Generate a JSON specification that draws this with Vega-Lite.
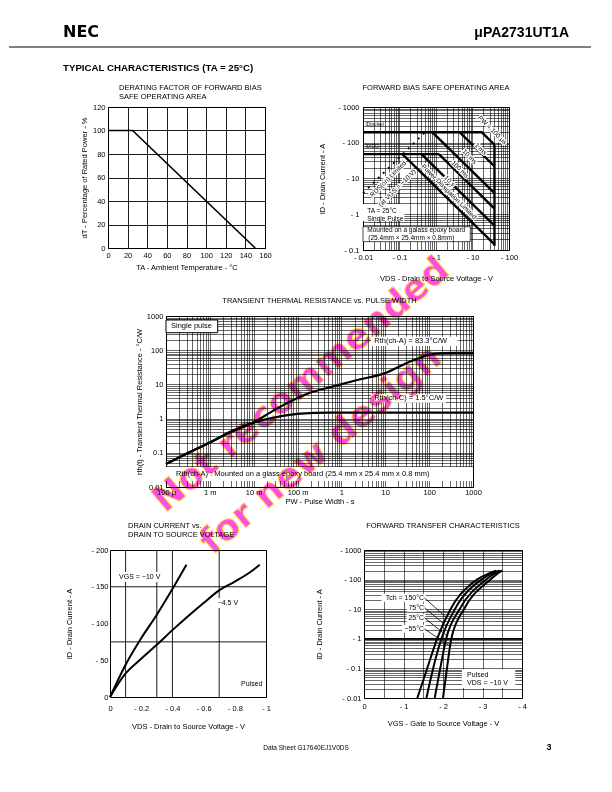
{
  "$schema": "https://vega.github.io/schema/vega-lite/v6.json",
  "background": "white",
  "padding": {"left": 8, "top": 10, "right": 0, "bottom": 0},
  "spacing": 0,
  "bounds": "flush",
  "config": {
    "font": "Liberation Sans",
    "view": {"stroke": "#000", "strokeWidth": 1},
    "axis": {"labelFont": "Liberation Sans", "titleFont": "Liberation Sans", "labelFontSize": 7.5, "titleFontSize": 7.5, "titleFontWeight": "normal", "labelColor": "#000", "titleColor": "#000", "domain": false, "ticks": false, "gridColor": "#000", "gridOpacity": 1, "gridWidth": 0.6, "labelFlush": false, "labelOverlap": false, "labelPadding": 3},
    "axisX": {"labelOverlap": false},
    "axisY": {"labelOverlap": false},
    "title": {"font": "Liberation Sans", "fontSize": 7.5, "fontWeight": "normal", "color": "#000"},
    "text": {"font": "Liberation Sans", "fontSize": 6.5, "color": "#000"}
  },
  "datasets": {
    "soa": [
      {"seg": "pulse", "v": 0.01, "i": 196}, {"seg": "pulse", "v": 18, "i": 196}, {"seg": "pulse", "v": 40, "i": 88},
      {"seg": "vlim", "v": 40, "i": 88}, {"seg": "vlim", "v": 40, "i": 0.13},
      {"seg": "ms1", "v": 4.5, "i": 196}, {"seg": "ms1", "v": 40, "i": 22},
      {"seg": "ms10", "v": 0.8, "i": 196}, {"seg": "ms10", "v": 40, "i": 3.9},
      {"seg": "dc", "v": 0.01, "i": 48}, {"seg": "dc", "v": 1.2, "i": 48},
      {"seg": "ms100", "v": 1.2, "i": 48}, {"seg": "ms100", "v": 40, "i": 1.44},
      {"seg": "s10", "v": 0.4, "i": 48}, {"seg": "s10", "v": 40, "i": 0.48},
      {"seg": "pd", "v": 0.12, "i": 48}, {"seg": "pd", "v": 40, "i": 0.144}
    ],
    "ron": [{"v": 0.01, "i": 3.9}, {"v": 0.5, "i": 196}],
    "soaDiag": [
      {"t": "PW = 100 μs", "v": 34.8, "i": 227},
      {"t": "1 ms", "v": 16.7, "i": 66.8},
      {"t": "10 ms", "v": 8.3, "i": 40.7},
      {"t": "100 ms", "v": 4.55, "i": 18.1},
      {"t": "10 s", "v": 2.36, "i": 8.5},
      {"t": "Power Dissipation Limited", "v": 2.26, "i": 4.27}
    ],
    "soaRon": [
      {"t": "RDS(on) Limited", "v": 0.049, "i": 9.7},
      {"t": "(at VGS = −10 V)", "v": 0.087, "i": 5.4}
    ],
    "soaNotes": [
      {"t": "TA = 25°C", "v": 0.0131, "i": 1.26},
      {"t": "Single Pulse", "v": 0.0131, "i": 0.736},
      {"t": "Mounted on a galass epoxy board", "v": 0.0131, "i": 0.363},
      {"t": "(25.4mm × 25.4mm × 0.8mm)", "v": 0.014, "i": 0.212}
    ],
    "soaId": [
      {"t": "ID(pulse)", "v": 0.0118, "i": 314},
      {"t": "ID(DC)", "v": 0.0118, "i": 77}
    ],
    "tth": [
      {"s": "A", "t": 0.0001, "r": 0.047}, {"s": "A", "t": 0.0003, "r": 0.095}, {"s": "A", "t": 0.001, "r": 0.2}, {"s": "A", "t": 0.003, "r": 0.4}, {"s": "A", "t": 0.006, "r": 0.58}, {"s": "A", "t": 0.01, "r": 0.78}, {"s": "A", "t": 0.03, "r": 1.8}, {"s": "A", "t": 0.1, "r": 4.0}, {"s": "A", "t": 0.2, "r": 5.8}, {"s": "A", "t": 0.63, "r": 8.6}, {"s": "A", "t": 2.3, "r": 13.5}, {"s": "A", "t": 9.5, "r": 21}, {"s": "A", "t": 32, "r": 43}, {"s": "A", "t": 94, "r": 72}, {"s": "A", "t": 200, "r": 82.5}, {"s": "A", "t": 400, "r": 83.3}, {"s": "A", "t": 1000, "r": 83.3},
      {"s": "C", "t": 0.0001, "r": 0.047}, {"s": "C", "t": 0.0003, "r": 0.095}, {"s": "C", "t": 0.001, "r": 0.2}, {"s": "C", "t": 0.003, "r": 0.42}, {"s": "C", "t": 0.006, "r": 0.62}, {"s": "C", "t": 0.01, "r": 0.76}, {"s": "C", "t": 0.02, "r": 0.97}, {"s": "C", "t": 0.05, "r": 1.22}, {"s": "C", "t": 0.1, "r": 1.38}, {"s": "C", "t": 0.25, "r": 1.48}, {"s": "C", "t": 0.5, "r": 1.5}, {"s": "C", "t": 1000, "r": 1.5}
    ],
    "tthBoxes": [
      {"t1": 0.0001, "t2": 0.00151, "r1": 764, "r2": 325, "b": "border"},
      {"t1": 4.72, "t2": 448, "r1": 248, "r2": 133, "b": "plain"},
      {"t1": 4.72, "t2": 242, "r1": 5.24, "r2": 2.92, "b": "plain"},
      {"t1": 0.0001, "t2": 1000, "r1": 0.0385, "r2": 0.015, "b": "plain"}
    ],
    "tthText": [
      {"t": 0.00013, "r": 510, "txt": "Single pulse"},
      {"t": 5.6, "r": 186, "txt": "Rth(ch-A) = 83.3°C/W"},
      {"t": 5.6, "r": 4.08, "txt": "Rth(ch-C) = 1.5°C/W"},
      {"t": 0.000169, "r": 0.0235, "txt": "Rth(ch-A) : Mounted on a glass epoxy board (25.4 mm x 25.4 mm x 0.8 mm)"}
    ],
    "idvd": [
      {"vgs": "-10", "v": 0, "i": 0}, {"vgs": "-10", "v": 0.1, "i": 44}, {"vgs": "-10", "v": 0.2, "i": 80}, {"vgs": "-10", "v": 0.3, "i": 112}, {"vgs": "-10", "v": 0.4, "i": 147}, {"vgs": "-10", "v": 0.49, "i": 180},
      {"vgs": "-4.5", "v": 0, "i": 0}, {"vgs": "-4.5", "v": 0.1, "i": 32}, {"vgs": "-4.5", "v": 0.2, "i": 52}, {"vgs": "-4.5", "v": 0.3, "i": 71}, {"vgs": "-4.5", "v": 0.4, "i": 91}, {"vgs": "-4.5", "v": 0.5, "i": 110}, {"vgs": "-4.5", "v": 0.6, "i": 128}, {"vgs": "-4.5", "v": 0.7, "i": 145}, {"vgs": "-4.5", "v": 0.8, "i": 157}, {"vgs": "-4.5", "v": 0.9, "i": 170}, {"vgs": "-4.5", "v": 0.96, "i": 180}
    ],
    "transfer": [
      {"tch": "150", "v": 1.35, "i": 0.01}, {"tch": "150", "v": 1.6, "i": 0.1}, {"tch": "150", "v": 1.85, "i": 1}, {"tch": "150", "v": 2.19, "i": 10}, {"tch": "150", "v": 2.86, "i": 100}, {"tch": "150", "v": 3.15, "i": 160}, {"tch": "150", "v": 3.35, "i": 200},
      {"tch": "75", "v": 1.58, "i": 0.01}, {"tch": "75", "v": 1.75, "i": 0.1}, {"tch": "75", "v": 1.96, "i": 1}, {"tch": "75", "v": 2.3, "i": 10}, {"tch": "75", "v": 2.97, "i": 100}, {"tch": "75", "v": 3.22, "i": 160}, {"tch": "75", "v": 3.42, "i": 200},
      {"tch": "25", "v": 1.79, "i": 0.01}, {"tch": "25", "v": 1.93, "i": 0.1}, {"tch": "25", "v": 2.08, "i": 1}, {"tch": "25", "v": 2.42, "i": 10}, {"tch": "25", "v": 3.09, "i": 100}, {"tch": "25", "v": 3.3, "i": 160}, {"tch": "25", "v": 3.46, "i": 200},
      {"tch": "-55", "v": 2.0, "i": 0.01}, {"tch": "-55", "v": 2.1, "i": 0.1}, {"tch": "-55", "v": 2.21, "i": 1}, {"tch": "-55", "v": 2.53, "i": 10}, {"tch": "-55", "v": 3.2, "i": 100}, {"tch": "-55", "v": 3.38, "i": 160}, {"tch": "-55", "v": 3.5, "i": 200}
    ],
    "leaders": [
      {"tch": "150", "v": 1.53, "i": 24.3}, {"tch": "150", "v": 2.09, "i": 5.1},
      {"tch": "75", "v": 1.53, "i": 11.1}, {"tch": "75", "v": 2.1, "i": 2.67},
      {"tch": "25", "v": 1.53, "i": 5.1}, {"tch": "25", "v": 2.11, "i": 1.23},
      {"tch": "-55", "v": 1.53, "i": 2.17}, {"tch": "-55", "v": 2.18, "i": 0.56}
    ],
    "transferLabels": [
      {"txt": "Tch = 150°C", "v": 1.52, "i": 24.3},
      {"txt": "75°C", "v": 1.52, "i": 11.1},
      {"txt": "25°C", "v": 1.52, "i": 5.1},
      {"txt": "−55°C", "v": 1.52, "i": 2.17}
    ],
    "transferBoxes": [
      {"v": 0.44, "v2": 1.56, "i": 33, "i2": 17.8},
      {"v": 1.08, "v2": 1.56, "i": 15.2, "i2": 8.1},
      {"v": 1.08, "v2": 1.56, "i": 7.0, "i2": 3.7},
      {"v": 0.96, "v2": 1.56, "i": 2.96, "i2": 1.59},
      {"v": 2.48, "v2": 3.83, "i": 0.094, "i2": 0.0218}
    ]
  },
  "vconcat": [
    {
      "width": 582, "height": 97, "view": {"stroke": null},
      "layer": [
        {"data": {"values": [{}]}, "mark": {"type": "rule", "strokeWidth": 1, "color": "#000"},
         "encoding": {"y": {"datum": 37, "type": "quantitative", "scale": {"domain": [0, 97], "reverse": true, "nice": false, "zero": false}, "axis": null}}},
        {"data": {"values": [{"label": "NEC"}]},
         "mark": {"type": "text", "align": "left", "baseline": "alphabetic", "font": "DejaVu Sans", "fontWeight": "bold", "fontSize": 16},
         "encoding": {"text": {"field": "label"}, "x": {"datum": 54, "type": "quantitative", "scale": {"domain": [0, 582], "nice": false, "zero": false}, "axis": null}, "y": {"datum": 26.5, "type": "quantitative", "scale": {"domain": [0, 97], "reverse": true, "nice": false, "zero": false}, "axis": null}}},
        {"data": {"values": [{"label": "μPA2731UT1A"}]},
         "mark": {"type": "text", "align": "right", "baseline": "alphabetic", "fontWeight": "bold", "fontSize": 14},
         "encoding": {"text": {"field": "label"}, "x": {"datum": 560, "type": "quantitative"}, "y": {"datum": 26.5, "type": "quantitative"}}},
        {"data": {"values": [{"label": "TYPICAL  CHARACTERISTICS (TA = 25°C)"}]},
         "mark": {"type": "text", "align": "left", "baseline": "alphabetic", "fontWeight": "bold", "fontSize": 9.7},
         "encoding": {"text": {"field": "label"}, "x": {"datum": 54, "type": "quantitative"}, "y": {"datum": 60.5, "type": "quantitative"}}},
        {"data": {"values": [{"label": "Data Sheet  G17640EJ1V0DS"}]},
         "mark": {"type": "text", "align": "center", "baseline": "alphabetic", "fontSize": 6.5},
         "encoding": {"text": {"field": "label"}, "x": {"datum": 297, "type": "quantitative"}, "y": {"datum": 739.5, "type": "quantitative"}}},
        {"data": {"values": [{"label": "3"}]},
         "mark": {"type": "text", "align": "center", "baseline": "alphabetic", "fontSize": 9, "fontWeight": "bold"},
         "encoding": {"text": {"field": "label"}, "x": {"datum": 540, "type": "quantitative"}, "y": {"datum": 739.5, "type": "quantitative"}}}
      ]
    },
    {
      "spacing": 0, "bounds": "flush",
      "hconcat": [
        {"width": 99, "height": 1, "view": {"stroke": null}, "data": {"values": []}, "mark": "point"},
        {
          "width": 157, "height": 141,
          "title": {"text": ["DERATING FACTOR OF FORWARD BIAS", "SAFE OPERATING AREA"], "anchor": "start", "frame": "group", "dx": 11, "offset": 2.5, "lineHeight": 9.3},
          "data": {"values": [{"ta": 0, "dt": 100}, {"ta": 25, "dt": 100}, {"ta": 150, "dt": 0}]},
          "mark": {"type": "line", "strokeWidth": 1.6, "color": "#000"},
          "encoding": {
            "x": {"field": "ta", "type": "quantitative", "scale": {"domain": [0, 160], "nice": false}, "axis": {"values": [0, 20, 40, 60, 80, 100, 120, 140, 160], "labelOverlap": false, "title": "TA - Ambient Temperature - °C", "grid": true, "gridWidth": 0.9, "titlePadding": 5}},
            "y": {"field": "dt", "type": "quantitative", "scale": {"domain": [0, 120], "nice": false}, "axis": {"values": [0, 20, 40, 60, 80, 100, 120], "labelOverlap": false, "title": "dT - Percentage of Rated Power - %", "grid": true, "gridWidth": 0.9, "titlePadding": 4}}
          }
        },
        {"width": 98, "height": 1, "view": {"stroke": null}, "data": {"values": []}, "mark": "point"},
        {
          "width": 146, "height": 143,
          "title": {"text": "FORWARD BIAS SAFE OPERATING AREA", "anchor": "middle", "frame": "group", "offset": 12},
          "layer": [
            {"data": {"values": [{"v1": 0.01, "v2": 0.136, "i1": 1.94, "i2": 0.645}]},
             "mark": {"type": "rect", "fill": "white"},
             "encoding": {
               "x": {"field": "v1", "type": "quantitative", "scale": {"type": "log", "domain": [0.01, 100], "nice": false}, "axis": {"values": [0.01,0.02,0.03,0.04,0.05,0.06,0.07,0.08,0.09,0.1,0.2,0.3,0.4,0.5,0.6,0.7,0.8,0.9,1,2,3,4,5,6,7,8,9,10,20,30,40,50,60,70,80,90,100], "labelOverlap": false, "grid": true, "labelExpr": "indexof([0.01,0.1,1,10,100], datum.value) >= 0 ? '- ' + format(datum.value, '~g') : ''", "title": "VDS - Drain to Source Voltage - V", "titlePadding": 14}},
               "x2": {"field": "v2"},
               "y": {"field": "i1", "type": "quantitative", "scale": {"type": "log", "domain": [0.1, 1000], "nice": false}, "axis": {"values": [0.1,0.2,0.3,0.4,0.5,0.6,0.7,0.8,0.9,1,2,3,4,5,6,7,8,9,10,20,30,40,50,60,70,80,90,100,200,300,400,500,600,700,800,900,1000], "labelOverlap": false, "grid": true, "labelExpr": "indexof([0.1,1,10,100,1000], datum.value) >= 0 ? '- ' + format(datum.value, '~g') : ''", "title": "ID - Drain Current - A", "labelPadding": 4, "titlePadding": 11}},
               "y2": {"field": "i2"}
             }},
            {"data": {"values": [{"v1": 0.01, "v2": 8.7, "i1": 0.449, "i2": 0.171}]},
             "mark": {"type": "rect", "fill": "white", "stroke": "#000", "strokeWidth": 0.7},
             "encoding": {"x": {"field": "v1", "type": "quantitative"}, "x2": {"field": "v2"}, "y": {"field": "i1", "type": "quantitative"}, "y2": {"field": "i2"}}},
            {"data": {"name": "soa"},
             "mark": {"type": "line", "strokeWidth": 2.4, "color": "#000"},
             "encoding": {"x": {"field": "v", "type": "quantitative"}, "y": {"field": "i", "type": "quantitative"}, "detail": {"field": "seg"}}},
            {"data": {"name": "ron"},
             "mark": {"type": "line", "strokeWidth": 1.8, "color": "#000", "strokeDash": [2, 5]},
             "encoding": {"x": {"field": "v", "type": "quantitative"}, "y": {"field": "i", "type": "quantitative"}}},
            {"data": {"name": "soaDiag"},
             "mark": {"type": "text", "angle": 45, "align": "center", "baseline": "middle", "fontSize": 6.5, "stroke": "white", "strokeWidth": 2.5, "fill": "white"},
             "encoding": {"x": {"field": "v", "type": "quantitative"}, "y": {"field": "i", "type": "quantitative"}, "text": {"field": "t"}}},
            {"data": {"name": "soaDiag"},
             "mark": {"type": "text", "angle": 45, "align": "center", "baseline": "middle", "fontSize": 6.5},
             "encoding": {"x": {"field": "v", "type": "quantitative"}, "y": {"field": "i", "type": "quantitative"}, "text": {"field": "t"}}},
            {"data": {"name": "soaRon"},
             "mark": {"type": "text", "angle": 315, "align": "center", "baseline": "middle", "fontSize": 6.5, "stroke": "white", "strokeWidth": 2.5, "fill": "white"},
             "encoding": {"x": {"field": "v", "type": "quantitative"}, "y": {"field": "i", "type": "quantitative"}, "text": {"field": "t"}}},
            {"data": {"name": "soaRon"},
             "mark": {"type": "text", "angle": 315, "align": "center", "baseline": "middle", "fontSize": 6.5},
             "encoding": {"x": {"field": "v", "type": "quantitative"}, "y": {"field": "i", "type": "quantitative"}, "text": {"field": "t"}}},
            {"data": {"name": "soaNotes"},
             "mark": {"type": "text", "align": "left", "baseline": "middle", "fontSize": 6.5},
             "encoding": {"x": {"field": "v", "type": "quantitative"}, "y": {"field": "i", "type": "quantitative"}, "text": {"field": "t"}}},
            {"data": {"name": "soaId"},
             "mark": {"type": "text", "align": "left", "baseline": "middle", "fontSize": 4.5},
             "encoding": {"x": {"field": "v", "type": "quantitative"}, "y": {"field": "i", "type": "quantitative"}, "text": {"field": "t"}}}
          ]
        }
      ]
    },
    {"width": 1, "height": 209, "view": {"stroke": null}, "data": {"values": []}, "mark": "point"},
    {
      "spacing": 0, "bounds": "flush",
      "hconcat": [
        {"width": 157, "height": 1, "view": {"stroke": null}, "data": {"values": []}, "mark": "point"},
        {
          "width": 307, "height": 171,
          "title": {"text": "TRANSIENT THERMAL RESISTANCE vs. PULSE WIDTH", "anchor": "middle", "frame": "group", "offset": 8},
          "layer": [
            {"data": {"name": "tthBoxes"},
             "mark": {"type": "rect", "fill": "white"},
             "encoding": {
               "x": {"field": "t1", "type": "quantitative", "scale": {"type": "log", "domain": [0.0001, 1000], "nice": false}, "axis": {"values": [0.0001,0.0002,0.0003,0.0004,0.0005,0.0006,0.0007,0.0008,0.0009,0.001,0.002,0.003,0.004,0.005,0.006,0.007,0.008,0.009,0.01,0.02,0.03,0.04,0.05,0.06,0.07,0.08,0.09,0.1,0.2,0.3,0.4,0.5,0.6,0.7,0.8,0.9,1,2,3,4,5,6,7,8,9,10,20,30,40,50,60,70,80,90,100,200,300,400,500,600,700,800,900,1000], "labelOverlap": false, "grid": true, "labelExpr": "datum.value === 0.0001 ? '100 μ' : datum.value === 0.001 ? '1 m' : datum.value === 0.01 ? '10 m' : datum.value === 0.1 ? '100 m' : indexof([1,10,100,1000], datum.value) >= 0 ? format(datum.value, 'd') : ''", "title": "PW - Pulse Width - s", "labelPadding": 1, "titlePadding": 2}},
               "x2": {"field": "t2"},
               "y": {"field": "r1", "type": "quantitative", "scale": {"type": "log", "domain": [0.01, 1000], "nice": false}, "axis": {"values": [0.01,0.02,0.03,0.04,0.05,0.06,0.07,0.08,0.09,0.1,0.2,0.3,0.4,0.5,0.6,0.7,0.8,0.9,1,2,3,4,5,6,7,8,9,10,20,30,40,50,60,70,80,90,100,200,300,400,500,600,700,800,900,1000], "labelOverlap": false, "grid": true, "labelExpr": "indexof([0.01,0.1,1,10,100,1000], datum.value) >= 0 ? format(datum.value, '~g') : ''", "title": "rth(t) - Transient Thermal Resistance - °C/W", "labelPadding": 3, "titlePadding": 3}},
               "y2": {"field": "r2"},
               "stroke": {"condition": {"test": "datum.b === 'border'", "value": "#000"}, "value": null}
             }},
            {"data": {"name": "tth"},
             "mark": {"type": "line", "strokeWidth": 2.2, "color": "#000", "interpolate": "monotone"},
             "encoding": {"x": {"field": "t", "type": "quantitative"}, "y": {"field": "r", "type": "quantitative"}, "detail": {"field": "s"}}},
            {"data": {"name": "tthText"},
             "mark": {"type": "text", "align": "left", "baseline": "middle", "fontSize": 7.5},
             "encoding": {"x": {"field": "t", "type": "quantitative"}, "y": {"field": "r", "type": "quantitative"}, "text": {"field": "txt"}}}
          ]
        }
      ]
    },
    {
      "spacing": 0, "bounds": "flush",
      "hconcat": [
        {"width": 157, "height": 1, "view": {"stroke": null}, "data": {"values": []}, "mark": "point"},
        {
          "width": 307, "height": 171, "view": {"stroke": null},
          "layer": [
            {"data": {"values": [{"w": "Not recommended"}]},
             "mark": {"type": "text", "angle": 320, "align": "center", "baseline": "middle", "font": "DejaVu Sans", "fontWeight": "bold", "fontSize": 36, "fill": "#ff4fe3", "stroke": "#ffd84a", "strokeWidth": 1, "blend": "multiply"},
             "encoding": {"x": {"datum": 0.12, "type": "quantitative", "scale": {"type": "log", "domain": [0.0001, 1000], "nice": false}, "axis": null}, "y": {"datum": 9.6, "type": "quantitative", "scale": {"type": "log", "domain": [0.01, 1000], "nice": false}, "axis": null}, "text": {"field": "w"}}},
            {"data": {"values": [{"w": "for new design"}]},
             "mark": {"type": "text", "angle": 320, "align": "center", "baseline": "middle", "font": "DejaVu Sans", "fontWeight": "bold", "fontSize": 36, "fill": "#ff4fe3", "stroke": "#ffd84a", "strokeWidth": 1, "blend": "multiply"},
             "encoding": {"x": {"datum": 0.342, "type": "quantitative"}, "y": {"datum": 0.121, "type": "quantitative"}, "text": {"field": "w"}}}
          ]
        }
      ]
    },
    {"width": 1, "height": 234, "view": {"stroke": null}, "data": {"values": []}, "mark": "point"},
    {
      "spacing": 0, "bounds": "flush",
      "hconcat": [
        {"width": 101, "height": 1, "view": {"stroke": null}, "data": {"values": []}, "mark": "point"},
        {
          "width": 156, "height": 147,
          "title": {"text": ["DRAIN CURRENT vs.", "DRAIN TO SOURCE VOLTAGE"], "anchor": "start", "frame": "group", "dx": 18, "offset": 7, "lineHeight": 9.3},
          "layer": [
            {"data": {"values": [{"v": 0.1}, {"v": 0.3}, {"v": 0.4}, {"v": 0.7}]},
             "mark": {"type": "rule", "strokeWidth": 0.9, "color": "#000"},
             "encoding": {"x": {"field": "v", "type": "quantitative", "scale": {"domain": [0, 1], "nice": false}, "axis": {"values": [0, 0.2, 0.4, 0.6, 0.8, 1], "labelOverlap": false, "grid": false, "labelExpr": "datum.value === 0 ? '0' : '- ' + format(datum.value, '~g')", "title": "VDS - Drain to Source Voltage - V", "labelPadding": 7, "titlePadding": 11}}}},
            {"data": {"values": [{"i": 75}, {"i": 150}]},
             "mark": {"type": "rule", "strokeWidth": 0.9, "color": "#000"},
             "encoding": {"y": {"field": "i", "type": "quantitative", "scale": {"domain": [0, 200], "nice": false}, "axis": {"values": [0, 50, 100, 150, 200], "labelOverlap": false, "grid": false, "labelExpr": "datum.value === 0 ? '0' : '- ' + format(datum.value, '~g')", "title": "ID - Drain Current - A", "labelPadding": 2, "titlePadding": 17}}}},
            {"data": {"values": [{"v": 0.05, "v2": 0.35, "i": 170, "i2": 156.5}, {"v": 0.68, "v2": 0.815, "i": 134.7, "i2": 121}]},
             "mark": {"type": "rect", "fill": "white"},
             "encoding": {"x": {"field": "v", "type": "quantitative", "scale": {"domain": [0, 1], "nice": false}, "axis": {"values": [0, 0.2, 0.4, 0.6, 0.8, 1], "labelOverlap": false, "grid": false, "labelExpr": "datum.value === 0 ? '0' : '- ' + format(datum.value, '~g')", "title": "VDS - Drain to Source Voltage - V", "labelPadding": 7, "titlePadding": 11}}, "x2": {"field": "v2"}, "y": {"field": "i", "type": "quantitative", "scale": {"domain": [0, 200], "nice": false}, "axis": {"values": [0, 50, 100, 150, 200], "labelOverlap": false, "grid": false, "labelExpr": "datum.value === 0 ? '0' : '- ' + format(datum.value, '~g')", "title": "ID - Drain Current - A", "labelPadding": 2, "titlePadding": 17}}, "y2": {"field": "i2"}}},
            {"data": {"name": "idvd"},
             "mark": {"type": "line", "strokeWidth": 2, "color": "#000", "interpolate": "monotone"},
             "encoding": {"x": {"field": "v", "type": "quantitative", "scale": {"domain": [0, 1], "nice": false}, "axis": {"values": [0, 0.2, 0.4, 0.6, 0.8, 1], "labelOverlap": false, "grid": false, "labelExpr": "datum.value === 0 ? '0' : '- ' + format(datum.value, '~g')", "title": "VDS - Drain to Source Voltage - V", "labelPadding": 7, "titlePadding": 11}}, "y": {"field": "i", "type": "quantitative", "scale": {"domain": [0, 200], "nice": false}, "axis": {"values": [0, 50, 100, 150, 200], "labelOverlap": false, "grid": false, "labelExpr": "datum.value === 0 ? '0' : '- ' + format(datum.value, '~g')", "title": "ID - Drain Current - A", "labelPadding": 2, "titlePadding": 17}}, "detail": {"field": "vgs"}}},
            {"data": {"values": [{"txt": "VGS = −10 V", "v": 0.058, "i": 163.7}, {"txt": "−4.5 V", "v": 0.69, "i": 127.5}, {"txt": "Pulsed", "v": 0.84, "i": 17.7}]},
             "mark": {"type": "text", "align": "left", "baseline": "middle", "fontSize": 7},
             "encoding": {"x": {"field": "v", "type": "quantitative", "scale": {"domain": [0, 1], "nice": false}, "axis": {"values": [0, 0.2, 0.4, 0.6, 0.8, 1], "labelOverlap": false, "grid": false, "labelExpr": "datum.value === 0 ? '0' : '- ' + format(datum.value, '~g')", "title": "VDS - Drain to Source Voltage - V", "labelPadding": 7, "titlePadding": 11}}, "y": {"field": "i", "type": "quantitative", "scale": {"domain": [0, 200], "nice": false}, "axis": {"values": [0, 50, 100, 150, 200], "labelOverlap": false, "grid": false, "labelExpr": "datum.value === 0 ? '0' : '- ' + format(datum.value, '~g')", "title": "ID - Drain Current - A", "labelPadding": 2, "titlePadding": 17}}, "text": {"field": "txt"}}}
          ]
        },
        {"width": 98, "height": 1, "view": {"stroke": null}, "data": {"values": []}, "mark": "point"},
        {
          "width": 158, "height": 148,
          "title": {"text": "FORWARD TRANSFER CHARACTERISTICS", "anchor": "middle", "frame": "group", "offset": 17},
          "layer": [
            {"data": {"name": "transferBoxes"},
             "mark": {"type": "rect", "fill": "white"},
             "encoding": {
               "x": {"field": "v", "type": "quantitative", "scale": {"domain": [0, 4], "nice": false}, "axis": {"values": [0, 0.5, 1, 1.5, 2, 2.5, 3, 3.5, 4], "labelOverlap": false, "grid": true, "labelExpr": "datum.value === 0 ? '0' : (datum.value % 1 === 0 ? '- ' + format(datum.value, 'd') : '')", "title": "VGS - Gate to Source Voltage - V", "labelPadding": 4, "titlePadding": 10}},
               "x2": {"field": "v2"},
               "y": {"field": "i", "type": "quantitative", "scale": {"type": "log", "domain": [0.01, 1000], "nice": false}, "axis": {"values": [0.01,0.02,0.03,0.04,0.05,0.06,0.07,0.08,0.09,0.1,0.2,0.3,0.4,0.5,0.6,0.7,0.8,0.9,1,2,3,4,5,6,7,8,9,10,20,30,40,50,60,70,80,90,100,200,300,400,500,600,700,800,900,1000], "labelOverlap": false, "grid": true, "labelExpr": "indexof([0.01,0.1,1,10,100,1000], datum.value) >= 0 ? '- ' + format(datum.value, '~g') : ''", "title": "ID - Drain Current - A", "labelPadding": 3, "titlePadding": 16}},
               "y2": {"field": "i2"}
             }},
            {"data": {"values": [{"i": 1}]},
             "mark": {"type": "rule", "strokeWidth": 1.8, "color": "#000"},
             "encoding": {"y": {"field": "i", "type": "quantitative", "scale": {"type": "log", "domain": [0.01, 1000], "nice": false}, "axis": {"values": [0.01,0.02,0.03,0.04,0.05,0.06,0.07,0.08,0.09,0.1,0.2,0.3,0.4,0.5,0.6,0.7,0.8,0.9,1,2,3,4,5,6,7,8,9,10,20,30,40,50,60,70,80,90,100,200,300,400,500,600,700,800,900,1000], "labelOverlap": false, "grid": true, "labelExpr": "indexof([0.01,0.1,1,10,100,1000], datum.value) >= 0 ? '- ' + format(datum.value, '~g') : ''", "title": "ID - Drain Current - A", "labelPadding": 3, "titlePadding": 16}}}},
            {"data": {"name": "transfer"},
             "mark": {"type": "line", "strokeWidth": 2, "color": "#000", "interpolate": "monotone"},
             "encoding": {"x": {"field": "v", "type": "quantitative", "scale": {"domain": [0, 4], "nice": false}, "axis": {"values": [0, 0.5, 1, 1.5, 2, 2.5, 3, 3.5, 4], "labelOverlap": false, "grid": true, "labelExpr": "datum.value === 0 ? '0' : (datum.value % 1 === 0 ? '- ' + format(datum.value, 'd') : '')", "title": "VGS - Gate to Source Voltage - V", "labelPadding": 4, "titlePadding": 10}}, "y": {"field": "i", "type": "quantitative"}, "detail": {"field": "tch"}}},
            {"data": {"name": "leaders"},
             "mark": {"type": "line", "strokeWidth": 0.8, "color": "#000"},
             "encoding": {"x": {"field": "v", "type": "quantitative", "scale": {"domain": [0, 4], "nice": false}, "axis": {"values": [0, 0.5, 1, 1.5, 2, 2.5, 3, 3.5, 4], "labelOverlap": false, "grid": true, "labelExpr": "datum.value === 0 ? '0' : (datum.value % 1 === 0 ? '- ' + format(datum.value, 'd') : '')", "title": "VGS - Gate to Source Voltage - V", "labelPadding": 4, "titlePadding": 10}}, "y": {"field": "i", "type": "quantitative"}, "detail": {"field": "tch"}}},
            {"data": {"name": "transferLabels"},
             "mark": {"type": "text", "align": "right", "baseline": "middle", "fontSize": 7},
             "encoding": {"x": {"field": "v", "type": "quantitative", "scale": {"domain": [0, 4], "nice": false}, "axis": {"values": [0, 0.5, 1, 1.5, 2, 2.5, 3, 3.5, 4], "labelOverlap": false, "grid": true, "labelExpr": "datum.value === 0 ? '0' : (datum.value % 1 === 0 ? '- ' + format(datum.value, 'd') : '')", "title": "VGS - Gate to Source Voltage - V", "labelPadding": 4, "titlePadding": 10}}, "y": {"field": "i", "type": "quantitative"}, "text": {"field": "txt"}}},
            {"data": {"values": [{"txt": "Pulsed", "v": 2.61, "i": 0.062}, {"txt": "VDS = −10 V", "v": 2.61, "i": 0.0322}]},
             "mark": {"type": "text", "align": "left", "baseline": "middle", "fontSize": 7},
             "encoding": {"x": {"field": "v", "type": "quantitative", "scale": {"domain": [0, 4], "nice": false}, "axis": {"values": [0, 0.5, 1, 1.5, 2, 2.5, 3, 3.5, 4], "labelOverlap": false, "grid": true, "labelExpr": "datum.value === 0 ? '0' : (datum.value % 1 === 0 ? '- ' + format(datum.value, 'd') : '')", "title": "VGS - Gate to Source Voltage - V", "labelPadding": 4, "titlePadding": 10}}, "y": {"field": "i", "type": "quantitative"}, "text": {"field": "txt"}}}
          ]
        }
      ]
    }
  ]
}
